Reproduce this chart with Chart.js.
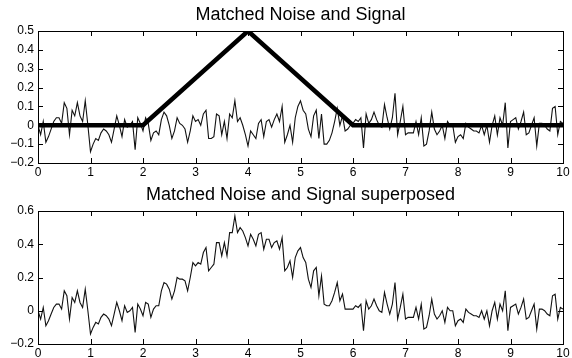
<!DOCTYPE html>
<html>
<head>
<meta charset="utf-8">
<title>Matched Noise and Signal</title>
<script src="https://cdn.jsdelivr.net/npm/chart.js@4.4.0/dist/chart.umd.min.js"></script>
<style>
  html, body { margin: 0; padding: 0; background: #fff; }
  #wrap { position: relative; width: 572px; height: 358px; }
  canvas { position: absolute; left: 0; }
  #top-chart { top: 0; width: 572px; height: 178px; }
  #bottom-chart { top: 178px; width: 572px; height: 180px; }
</style>
</head>
<body>
<div id="wrap">
  <canvas id="top-chart" width="572" height="178"></canvas>
  <canvas id="bottom-chart" width="572" height="180"></canvas>
</div>
<script>
// sample spacing of the noise record (0 .. 10)
const sampleStep = 0.05;

// matched noise
const noise = [
  0.00, -0.05, 0.02, -0.09, -0.06, -0.02, 0.02, 0.04, 0.04, 0.01, 0.12, 0.09, -0.05, 0.08, 0.05, 0.12, 0.05, 0.02, 0.13, 0.00,
  -0.14, -0.10, -0.07, -0.08, -0.04, -0.02, -0.03, -0.05, -0.09, -0.02, 0.05, 0.00, -0.06, 0.03, -0.01, 0.00, 0.02, -0.13, 0.04, 0.01,
  -0.03, 0.04, 0.01, -0.08, -0.04, -0.03, -0.05, 0.03, 0.07, 0.05, 0.00, -0.07, -0.03, 0.04, 0.01, 0.00, -0.02, -0.09, -0.03, 0.05,
  0.02, 0.03, 0.00, 0.06, 0.08, -0.07, -0.07, -0.06, 0.06, 0.05, -0.05, 0.02, -0.07, 0.06, 0.04, 0.13, 0.02, 0.04, 0.00, -0.05,
  -0.11, -0.03, -0.05, -0.07, 0.01, 0.03, -0.06, 0.02, 0.03, -0.01, 0.03, 0.06, 0.02, 0.10, -0.09, -0.05, 0.00, -0.09, 0.04, 0.10,
  0.13, 0.08, 0.06, -0.02, -0.06, 0.05, 0.08, -0.07, 0.06, -0.10, -0.10, -0.08, -0.04, 0.02, 0.09, 0.00, 0.05, -0.03, -0.02, 0.00,
  0.01, 0.03, 0.02, 0.04, -0.12, 0.06, 0.01, 0.03, 0.07, 0.03, 0.00, -0.01, 0.11, 0.04, -0.02, 0.04, 0.17, -0.05, 0.02, 0.10,
  -0.05, -0.04, -0.04, -0.04, 0.02, -0.05, 0.04, -0.11, -0.10, -0.03, 0.07, -0.02, -0.05, -0.03, 0.00, -0.07, 0.02, 0.00, 0.00, -0.09,
  -0.06, -0.05, -0.07, 0.01, -0.01, -0.02, -0.03, -0.03, -0.04, 0.00, -0.05, 0.00, -0.09, 0.00, 0.05, -0.05, 0.04, 0.00, 0.12, -0.12,
  0.02, 0.03, 0.04, -0.02, 0.02, 0.07, -0.05, -0.04, 0.00, 0.04, -0.11, 0.01, 0.01, 0.00, -0.02, -0.03, 0.09, 0.10, -0.05, 0.02, 0.01
];

// triangular signal (corner points)
const signalX = [0, 2, 4, 6, 10];
const signalY = [0, 0, 0.5, 0, 0];

// noise + signal
const superposed = [
  0.00, -0.05, 0.02, -0.09, -0.06, -0.02, 0.02, 0.04, 0.04, 0.01, 0.12, 0.09, -0.05, 0.08, 0.05, 0.12, 0.05, 0.02, 0.13, 0.00,
  -0.14, -0.10, -0.07, -0.08, -0.04, -0.02, -0.03, -0.05, -0.09, -0.02, 0.05, 0.00, -0.06, 0.03, -0.01, 0.00, 0.02, -0.13, 0.04, 0.01,
  -0.03, 0.05, 0.04, -0.04, 0.01, 0.03, 0.03, 0.12, 0.17, 0.16, 0.13, 0.07, 0.12, 0.20, 0.19, 0.19, 0.18, 0.12, 0.20, 0.29,
  0.27, 0.29, 0.28, 0.35, 0.38, 0.24, 0.26, 0.28, 0.41, 0.41, 0.33, 0.41, 0.33, 0.47, 0.47, 0.57, 0.47, 0.50, 0.48, 0.44,
  0.39, 0.46, 0.43, 0.39, 0.46, 0.47, 0.37, 0.43, 0.43, 0.38, 0.41, 0.42, 0.37, 0.44, 0.24, 0.26, 0.30, 0.20, 0.32, 0.36,
  0.38, 0.32, 0.29, 0.19, 0.14, 0.24, 0.26, 0.09, 0.21, 0.04, 0.03, 0.03, 0.06, 0.11, 0.17, 0.06, 0.10, 0.01, 0.01, 0.01,
  0.01, 0.03, 0.02, 0.04, -0.12, 0.06, 0.01, 0.03, 0.07, 0.03, 0.00, -0.01, 0.11, 0.04, -0.02, 0.04, 0.17, -0.05, 0.02, 0.10,
  -0.05, -0.04, -0.04, -0.04, 0.02, -0.05, 0.04, -0.11, -0.10, -0.03, 0.07, -0.02, -0.05, -0.03, 0.00, -0.07, 0.02, 0.00, 0.00, -0.09,
  -0.06, -0.05, -0.07, 0.01, -0.01, -0.02, -0.03, -0.03, -0.04, 0.00, -0.05, 0.00, -0.09, 0.00, 0.05, -0.05, 0.04, 0.00, 0.12, -0.12,
  0.02, 0.03, 0.04, -0.02, 0.02, 0.07, -0.05, -0.04, 0.00, 0.04, -0.11, 0.01, 0.01, 0.00, -0.02, -0.03, 0.09, 0.10, -0.05, 0.02, 0.01
];

// tick values
const xTicks = [0, 1, 2, 3, 4, 5, 6, 7, 8, 9, 10];
const topYTicks = [-0.2, -0.1, 0, 0.1, 0.2, 0.3, 0.4, 0.5];
const bottomYTicks = [-0.2, 0, 0.2, 0.4, 0.6];

const FONT = "'Liberation Sans', Arial, Helvetica, sans-serif";

const toPoints = arr => arr.map((v, i) => ({ x: i * sampleStep, y: v }));
const fmt = v => (v < 0 ? '\u2212' + Math.abs(v) : String(v));

// matlab-style box with inward ticks on all four sides, title centred over the axes
const boxTicks = {
  id: 'boxTicks',
  afterDatasetsDraw(chart, args, opts) {
    const { ctx, chartArea: a, scales: { x, y } } = chart;
    const len = 5;
    ctx.save();
    ctx.strokeStyle = '#000';
    ctx.lineWidth = 1;
    ctx.beginPath();
    x.ticks.forEach(t => {
      const px = Math.round(x.getPixelForValue(t.value)) + 0.5;
      ctx.moveTo(px, a.bottom); ctx.lineTo(px, a.bottom - len);
      ctx.moveTo(px, a.top); ctx.lineTo(px, a.top + len);
    });
    y.ticks.forEach(t => {
      const py = Math.round(y.getPixelForValue(t.value)) + 0.5;
      ctx.moveTo(a.left, py); ctx.lineTo(a.left + len, py);
      ctx.moveTo(a.right, py); ctx.lineTo(a.right - len, py);
    });
    ctx.stroke();
    ctx.strokeRect(Math.round(a.left) + 0.5, Math.round(a.top) + 0.5,
      Math.round(a.right - a.left), Math.round(a.bottom - a.top));

    ctx.fillStyle = '#000';
    ctx.font = '18px ' + FONT;
    ctx.textAlign = 'center';
    ctx.textBaseline = 'middle';
    ctx.fillText(opts.text, (a.left + a.right) / 2, opts.y);
    ctx.restore();
  }
};

function makeOptions(title, titleY, yTicks, yMin, yMax, padTop, xAxisHeight) {
  return {
    responsive: false,
    animation: false,
    devicePixelRatio: 1,
    layout: { padding: { left: 0, right: 9, top: padTop, bottom: 0 } },
    plugins: {
      legend: { display: false },
      tooltip: { enabled: false },
      title: { display: false },
      boxTicks: { text: title, y: titleY }
    },
    scales: {
      x: {
        type: 'linear',
        min: 0, max: 10,
        afterBuildTicks: s => { s.ticks = xTicks.map(v => ({ value: v })); },
        afterFit: s => { s.height = xAxisHeight; },
        grid: { display: false, drawTicks: false },
        border: { display: false },
        ticks: { color: '#000', padding: 2, maxRotation: 0, autoSkip: false,
                 font: { family: FONT, size: 12 }, callback: v => fmt(v) }
      },
      y: {
        type: 'linear',
        min: yMin, max: yMax,
        afterBuildTicks: s => { s.ticks = yTicks.map(v => ({ value: v })); },
        afterFit: s => { s.width = 38; },
        grid: { display: false, drawTicks: false },
        border: { display: false },
        ticks: { color: '#000', padding: 4, autoSkip: false,
                 font: { family: FONT, size: 12 }, callback: v => fmt(v) }
      }
    }
  };
}

// Top panel: noise and signal
new Chart(document.getElementById('top-chart').getContext('2d'), {
  type: 'line',
  data: {
    datasets: [
      {
        label: 'Signal',
        data: signalX.map((x, i) => ({ x, y: signalY[i] })),
        borderColor: '#000',
        borderWidth: 4.5,
        borderJoinStyle: 'miter',
        pointRadius: 0,
        tension: 0
      },
      {
        label: 'Noise',
        data: toPoints(noise),
        borderColor: '#111',
        borderWidth: 1.1,
        pointRadius: 0,
        tension: 0
      }
    ]
  },
  options: makeOptions('Matched Noise and Signal', 15, topYTicks, -0.2, 0.5, 31, 15),
  plugins: [boxTicks]
});

// Bottom panel: noise + signal
new Chart(document.getElementById('bottom-chart').getContext('2d'), {
  type: 'line',
  data: {
    datasets: [{
      label: 'Superposed',
      data: toPoints(superposed),
      borderColor: '#111',
      borderWidth: 1.1,
      pointRadius: 0,
      tension: 0
    }]
  },
  options: makeOptions('Matched Noise and Signal superposed', 17, bottomYTicks, -0.2, 0.6, 33, 14),
  plugins: [boxTicks]
});
</script>
</body>
</html>
